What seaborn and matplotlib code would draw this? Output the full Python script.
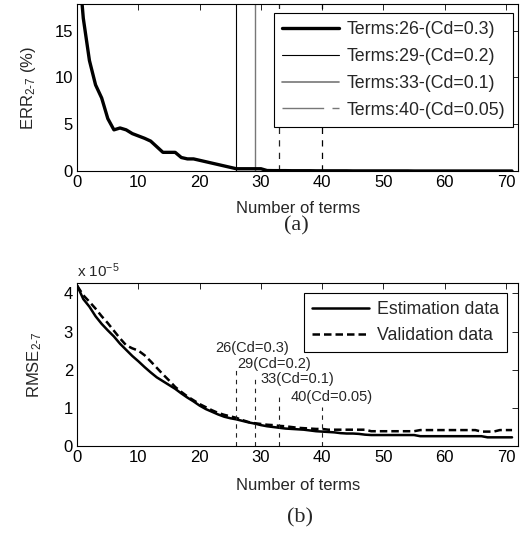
import matplotlib
matplotlib.use("Agg")
import matplotlib.pyplot as plt
from matplotlib.lines import Line2D
import pandas as pd
import seaborn as sns

sns.set_theme(style="white")
plt.rcParams["font.family"] = ["Liberation Sans", "DejaVu Sans"]
plt.rcParams["mathtext.fontset"] = "custom"
plt.rcParams["mathtext.rm"] = "Liberation Sans"
plt.rcParams["mathtext.it"] = "Liberation Sans"

# ---- data -----------------------------------------------------------------
n_terms = list(range(72))

err_pct = [24.0, 16.3, 11.8, 9.2, 7.8, 5.6, 4.4, 4.6, 4.4, 4.0,
           3.75, 3.5, 3.2, 2.6, 2.0, 2.0, 2.0, 1.45, 1.3, 1.3,
           1.15, 1.0, 0.85, 0.7, 0.55, 0.4, 0.25, 0.25, 0.25, 0.25,
           0.25, 0.06, 0.05, 0.05, 0.05, 0.04, 0.04, 0.04, 0.04, 0.03,
           0.03, 0.03, 0.03, 0.03, 0.03, 0.02, 0.02, 0.02, 0.02, 0.02,
           0.02, 0.02, 0.02, 0.02, 0.02, 0.01, 0.01, 0.01, 0.01, 0.01,
           0.01, 0.01, 0.01, 0.01, 0.01, 0.01, 0.01, 0.01, 0.01, 0.01,
           0.01, 0.01]

# RMSE values in units of 1e-5
rmse_est = [4.20, 3.85, 3.65, 3.40, 3.20, 3.03, 2.87, 2.68, 2.52, 2.36,
            2.22, 2.07, 1.93, 1.80, 1.70, 1.60, 1.50, 1.38, 1.27, 1.17,
            1.06, 0.97, 0.90, 0.83, 0.77, 0.73, 0.70, 0.66, 0.62, 0.59,
            0.55, 0.52, 0.50, 0.48, 0.46, 0.45, 0.44, 0.43, 0.41, 0.39,
            0.38, 0.37, 0.36, 0.34, 0.33, 0.33, 0.32, 0.30, 0.29, 0.29,
            0.29, 0.29, 0.29, 0.29, 0.29, 0.29, 0.26, 0.26, 0.26, 0.26,
            0.26, 0.26, 0.26, 0.26, 0.26, 0.26, 0.26, 0.23, 0.23, 0.23,
            0.23, 0.23]
rmse_val = [4.20, 3.95, 3.78, 3.60, 3.40, 3.22, 3.02, 2.82, 2.64, 2.56,
            2.50, 2.38, 2.22, 2.05, 1.88, 1.72, 1.55, 1.42, 1.30, 1.20,
            1.10, 1.02, 0.94, 0.87, 0.82, 0.78, 0.74, 0.68, 0.63, 0.60,
            0.58, 0.56, 0.55, 0.53, 0.52, 0.50, 0.48, 0.47, 0.46, 0.45,
            0.45, 0.43, 0.43, 0.43, 0.43, 0.43, 0.43, 0.43, 0.39, 0.39,
            0.39, 0.39, 0.39, 0.39, 0.39, 0.39, 0.42, 0.42, 0.42, 0.42,
            0.42, 0.42, 0.42, 0.42, 0.42, 0.42, 0.38, 0.38, 0.38, 0.42,
            0.42, 0.42]

cut_terms = [26, 29, 33, 40]
cut_cd = ["0.3", "0.2", "0.1", "0.05"]
top_labels = ["Terms:%d-(Cd=%s)" % (t, c) for t, c in zip(cut_terms, cut_cd)]
cut_heights = [2.08, 1.86, 1.38, 1.03]
cut_text_x = [22.6, 26.2, 30.0, 34.8]
cut_text_y = [2.58, 2.15, 1.76, 1.29]

df = pd.DataFrame({"n": n_terms, "err": err_pct,
                   "est": rmse_est, "val": rmse_val})

FS_TICK = 12
FS_LAB = 12
FS_LEG = 12.8

# ---- figure ---------------------------------------------------------------
fig = plt.figure(figsize=(5.25, 5.33), dpi=100)
ax1 = fig.add_axes([0.147, 0.679, 0.840, 0.313])
ax2 = fig.add_axes([0.147, 0.163, 0.840, 0.306])

for ax in (ax1, ax2):
    ax.tick_params(direction="in", top=True, right=True, length=4,
                   width=0.6, labelsize=FS_TICK, pad=3, colors="black")
    for sp in ax.spines.values():
        sp.set_linewidth(0.8)
        sp.set_color("black")
    ax.set_xlim(0, 72)
    ax.set_xticks(range(0, 71, 10))

# (a) ERR
sns.lineplot(data=df, x="n", y="err", ax=ax1, color="black", lw=2.4,
             zorder=3, legend=False)
line_styles = [dict(color="black", lw=0.8, ls="-"),
               dict(color="#777777", lw=1.0, ls="-"),
               dict(color="#222222", lw=0.9, ls=(0, (5, 5))),
               dict(color="black", lw=0.9, ls=(0, (5, 5)))]
for t, st in zip(cut_terms, line_styles):
    ax1.axvline(t, zorder=2, **st)
ax1.set_ylim(0, 17.8)
ax1.set_yticks([0, 5, 10, 15])
ax1.set_xlabel("Number of terms", fontsize=FS_LAB)
ax1.xaxis.set_label_coords(0.5, -0.18)
ax1.set_ylabel(r"ERR$_{\mathregular{2\text{-}7}}$ (%)", fontsize=FS_LAB)
ax1.yaxis.set_label_coords(-0.088, 0.5)

# legend entries follow the original figure (curve + first three cut lines)
leg_handles = [Line2D([], [], color="black", lw=2.4),
               Line2D([], [], color="black", lw=0.8),
               Line2D([], [], color="#777777", lw=1.2),
               Line2D([], [], color="#777777", lw=1.0, dashes=(30, 6))]
leg1 = ax1.legend(leg_handles, top_labels, loc="upper right",
                  bbox_to_anchor=(0.989, 0.946), fontsize=FS_LEG,
                  frameon=True, fancybox=False, edgecolor="black",
                  framealpha=1, handlelength=3.2, handletextpad=0.45,
                  borderpad=0.45, labelspacing=0.55, borderaxespad=0)
leg1.get_frame().set_linewidth(0.8)

# (b) RMSE
sns.lineplot(data=df, x="n", y="est", ax=ax2, color="black", lw=1.8,
             label="Estimation data")
sns.lineplot(data=df, x="n", y="val", ax=ax2, color="black", lw=1.8,
             ls=(0, (3, 1.6)), label="Validation data")
ax2.vlines(cut_terms, 0, cut_heights, colors="#222222", lw=0.8,
           linestyles=(0, (4, 4)))
for t, c, tx, ty in zip(cut_terms, cut_cd, cut_text_x, cut_text_y):
    ax2.text(tx, ty, "%d(Cd=%s)" % (t, c), fontsize=10.5, va="center",
             ha="left")
ax2.set_ylim(0, 4.27)
ax2.set_yticks([0, 1, 2, 3, 4])
ax2.set_xlabel("Number of terms", fontsize=FS_LAB)
ax2.xaxis.set_label_coords(0.5, -0.195)
ax2.set_ylabel(r"RMSE$_{\mathregular{2\text{-}7}}$", fontsize=FS_LAB)
ax2.yaxis.set_label_coords(-0.075, 0.5)
ax2.text(0.0, 1.02, r"x 10$^{\mathregular{-5}}$", transform=ax2.transAxes,
         fontsize=11, ha="left", va="bottom")
leg2 = ax2.legend(loc="upper right", bbox_to_anchor=(0.975, 0.939),
                  fontsize=FS_LEG, frameon=True, fancybox=False,
                  edgecolor="black", framealpha=1, handlelength=3.2,
                  handletextpad=0.45, borderpad=0.45, labelspacing=0.5,
                  borderaxespad=0)
leg2.get_frame().set_linewidth(0.8)

fig.text(0.565, 0.576, "(a)", family=["Liberation Serif"], fontsize=16,
         ha="center", va="center")
fig.text(0.572, 0.028, "(b)", family=["Liberation Serif"], fontsize=16,
         ha="center", va="center")

fig.savefig("out.png", dpi=100)
